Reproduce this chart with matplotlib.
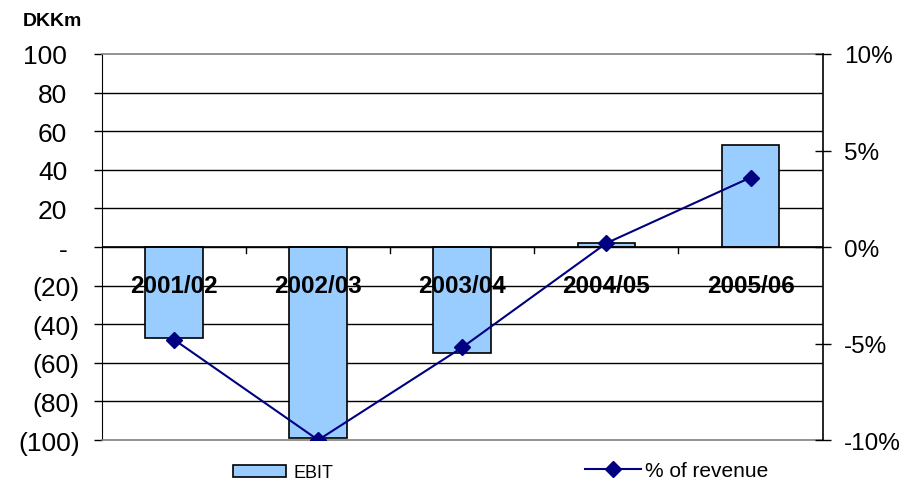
import matplotlib
matplotlib.use("Agg")
import matplotlib.pyplot as plt
from matplotlib.lines import Line2D
from matplotlib.patches import Patch
from matplotlib.transforms import ScaledTranslation

plt.rcParams['font.family'] = ['Liberation Sans', 'DejaVu Sans']

# Data
years = ["2001/02", "2002/03", "2003/04", "2004/05", "2005/06"]
ebit = [-47, -99, -55, 2, 53]                 # DKKm
pct_of_revenue = [-4.8, -10.0, -5.2, 0.2, 3.6]  # %
left_ticks = [100, 80, 60, 40, 20, 0, -20, -40, -60, -80, -100]
left_labels = ["100", "80", "60", "40", "20", "-", "(20)", "(40)", "(60)", "(80)", "(100)"]
right_ticks = [10, 5, 0, -5, -10]
right_labels = ["10%", "5%", "0%", "-5%", "-10%"]

fig = plt.figure(figsize=(9.15, 4.85), dpi=100)
ax = fig.add_axes([0.1115, 0.0907, 0.7875, 0.7959])
x = list(range(len(years)))

ax.set_xlim(-0.5, len(years) - 0.5)
ax.set_ylim(-100, 100)

# horizontal gridlines
for v in left_ticks[1:-1]:
    ax.axhline(v, color="black", lw=1.0, zorder=1)

ax.bar(x, ebit, width=0.4, color="#99CCFF", edgecolor="black", linewidth=1.2, zorder=2)

# category axis along zero with ticks between the categories
ax.axhline(0, color="black", lw=1.2, zorder=3)
for b in [i + 0.5 for i in x[:-1]]:
    ax.plot([b, b], [0, -3.2], color="black", lw=1.0, zorder=3)

for xi, lab in zip(x, years):
    ax.text(xi, -20, lab, ha="center", va="center", fontsize=17.5,
            fontweight="bold", zorder=6)

ax.set_yticks(left_ticks)
ax.set_yticklabels(left_labels, fontsize=19)
ax.tick_params(axis="y", direction="out", length=6, width=1, pad=10)
# accounting-style alignment: plain numbers leave room for a closing parenthesis
for lbl in ax.get_yticklabels():
    if not lbl.get_text().endswith(")"):
        lbl.set_transform(lbl.get_transform() + ScaledTranslation(-9 / 72, 0, fig.dpi_scale_trans))
ax.set_xticks([])
for side in ["top", "bottom"]:
    ax.spines[side].set_color("#808080")
    ax.spines[side].set_linewidth(1.2)
ax.spines["left"].set_color("black")
ax.spines["right"].set_visible(False)

ax2 = ax.twinx()
ax2.set_position(ax.get_position())
ax2.set_ylim(-10, 10)
ax2.plot(x, pct_of_revenue, color="#000080", lw=1.5, marker="D", markersize=8, zorder=5)
ax2.set_yticks(right_ticks)
ax2.set_yticklabels(right_labels, fontsize=17.5)
ax2.tick_params(axis="y", direction="inout", length=11, width=1, pad=10)
for side in ["top", "bottom", "left"]:
    ax2.spines[side].set_visible(False)
ax2.spines["right"].set_color("black")
ax2.spines["right"].set_linewidth(1.2)

fig.text(0.025, 0.955, "DKKm", fontsize=14, fontweight="bold", ha="left", va="center")

leg1 = fig.legend([Patch(facecolor="#99CCFF", edgecolor="black", linewidth=1.2)], ["EBIT"],
                  loc="center left", bbox_to_anchor=(0.2546, 0.023), frameon=False,
                  fontsize=13, handlelength=2.93, handletextpad=0.44,
                  borderpad=0, borderaxespad=0)
leg2 = fig.legend([Line2D([0], [0], color="#000080", lw=1.5, marker="D", markersize=8)],
                  ["% of revenue"], loc="center left", bbox_to_anchor=(0.639, 0.027),
                  frameon=False, fontsize=15, handlelength=2.69, handletextpad=0.2,
                  borderpad=0, borderaxespad=0)

fig.savefig("out.png", dpi=100)
